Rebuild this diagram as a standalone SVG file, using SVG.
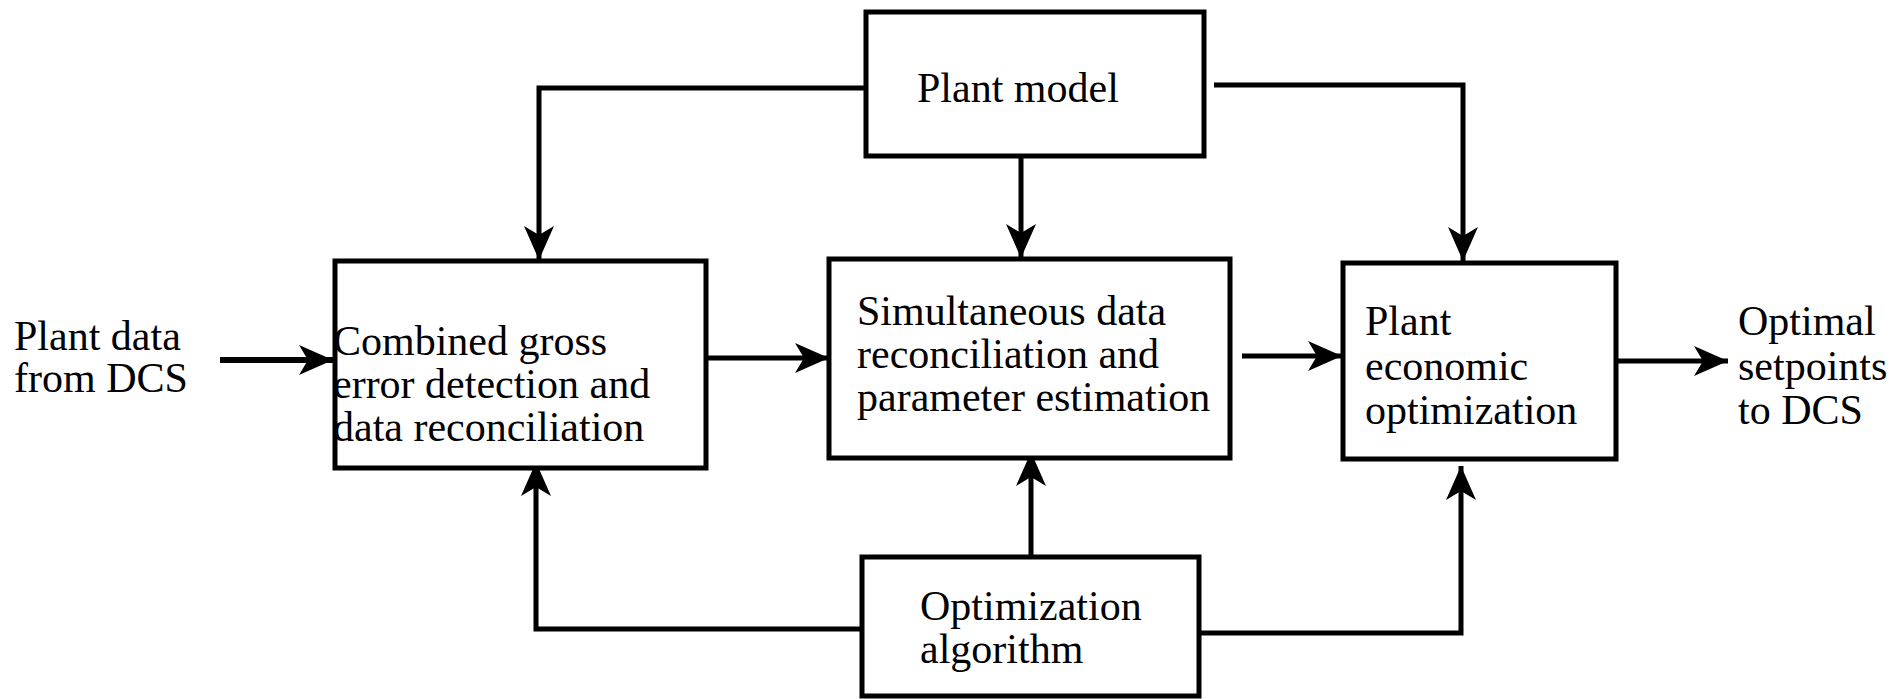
<svg xmlns="http://www.w3.org/2000/svg" width="1896" height="699" viewBox="0 0 1896 699">
<style>
.box{fill:#fff;stroke:#000;stroke-width:5}
.c{fill:none;stroke:#000;stroke-width:5}
.cw{fill:none;stroke:#000;stroke-width:6}
text{font-family:"Liberation Serif","Times New Roman",serif;font-size:42px;fill:#000}
</style>
<defs>
<marker id="ah" markerUnits="userSpaceOnUse" viewBox="-35 -17 37 34" refX="0" refY="0" markerWidth="37" markerHeight="34" orient="auto">
<path d="M0,0 L-34,-15 L-25,0 L-34,15 Z" fill="#000"/>
</marker>
</defs>
<rect width="1896" height="699" fill="#fff"/>
<g id="connectors">
<path class="c" d="M866,88 H539 V260" marker-end="url(#ah)"/>
<path class="c" d="M1021,156 V258" marker-end="url(#ah)"/>
<path class="c" d="M1214,85 H1463 V261" marker-end="url(#ah)"/>
<path class="cw" d="M220,360 H333" marker-end="url(#ah)"/>
<path class="c" d="M706,358 H829" marker-end="url(#ah)"/>
<path class="c" d="M1242,356 H1342" marker-end="url(#ah)"/>
<path class="c" d="M1617,361 H1728" marker-end="url(#ah)"/>
<path class="c" d="M862,629 H536 V462" marker-end="url(#ah)"/>
<path class="c" d="M1031,557 V452" marker-end="url(#ah)"/>
<path class="c" d="M1199,633 H1461 V466" marker-end="url(#ah)"/>
</g>
<g id="plant-model">
<rect class="box" x="866" y="12" width="338" height="144"/>
<text x="917" y="102">Plant model</text>
</g>
<g id="combined">
<rect class="box" x="335" y="261" width="371" height="207"/>
<text x="333" y="355">Combined gross</text>
<text x="333" y="398">error detection and</text>
<text x="333" y="441">data reconciliation</text>
</g>
<g id="simultaneous">
<rect class="box" x="829" y="259" width="401" height="199"/>
<text x="857" y="325">Simultaneous data</text>
<text x="857" y="368">reconciliation and</text>
<text x="857" y="411">parameter estimation</text>
</g>
<g id="economic">
<rect class="box" x="1343" y="263" width="273" height="196"/>
<text x="1365" y="335">Plant</text>
<text x="1365" y="380">economic</text>
<text x="1365" y="424">optimization</text>
</g>
<g id="optimization">
<rect class="box" x="862" y="557" width="337" height="139"/>
<text x="920" y="620">Optimization</text>
<text x="920" y="663">algorithm</text>
</g>
<g id="input-label">
<text x="14" y="350">Plant data</text>
<text x="14" y="392">from DCS</text>
</g>
<g id="output-label">
<text x="1738" y="335">Optimal</text>
<text x="1738" y="380">setpoints</text>
<text x="1738" y="424">to DCS</text>
</g>
</svg>
